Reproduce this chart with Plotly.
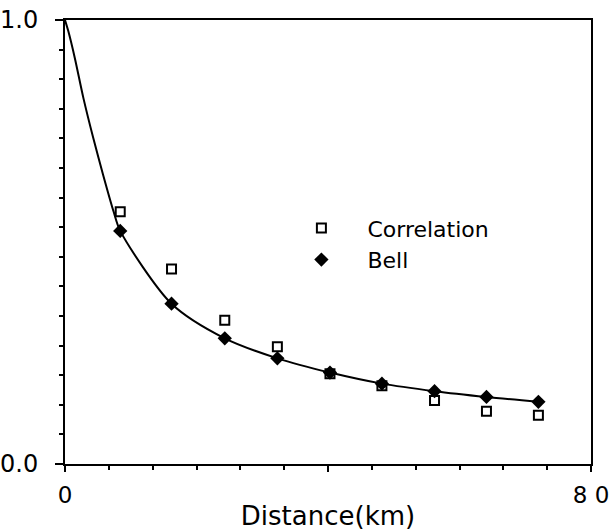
import plotly.graph_objects as go

# Data
dist = [8.4, 16.2, 24.3, 32.3, 40.3, 48.2, 56.2, 64.1, 72.0]
correlation = [0.568, 0.439, 0.324, 0.264, 0.203, 0.176, 0.143, 0.119, 0.110]
bell = [0.525, 0.361, 0.283, 0.238, 0.206, 0.181, 0.164, 0.151, 0.140]

# fitted curve
curve_x = [0, 0.5, 1.5, 2.8, 4.3, 5.8, 7.4, 8.4, 16.2, 24.3, 32.3, 40.3, 48.2, 56.2, 64.1, 72.0]
curve_y = [1.0, 0.975, 0.914, 0.824, 0.734, 0.651, 0.568, 0.525, 0.361, 0.283, 0.238, 0.206, 0.181, 0.164, 0.151, 0.140]

x_ticks = [0, 40, 80]
x_ticktext = ["0", "", "8 0"]
y_ticks = [0, 1]
y_ticktext = ["0.0", "1.0"]

FONT = "DejaVu Sans"

fig = go.Figure()
fig.add_trace(go.Scatter(x=curve_x, y=curve_y, mode="lines",
                         line=dict(color="black", width=2, shape="spline", smoothing=0.8),
                         showlegend=False, hoverinfo="skip"))
fig.add_trace(go.Scatter(x=dist, y=correlation, mode="markers", name="Correlation",
                         marker=dict(symbol="square-open", size=9, color="black", line=dict(width=2))))
fig.add_trace(go.Scatter(x=dist, y=bell, mode="markers", name="Bell",
                         marker=dict(symbol="diamond", size=11, color="black")))

fig.update_layout(
    width=611, height=531,
    margin=dict(l=65, r=20, t=20, b=67),
    plot_bgcolor="white", paper_bgcolor="white",
    font=dict(family=FONT, color="black", size=22),
    legend=dict(x=0.40, y=0.495, xanchor="left", yanchor="middle", bgcolor="rgba(0,0,0,0)",
                font=dict(size=22, family=FONT), itemwidth=82, tracegroupgap=0, itemsizing="trace"),
    xaxis=dict(range=[0, 80], showline=True, mirror=True, linewidth=2, linecolor="black", automargin=False,
               showgrid=False, zeroline=False, tickmode="array", tickvals=x_ticks, ticktext=x_ticktext,
               ticks="outside", ticklen=6, tickwidth=2, tickcolor="black", ticklabelstandoff=3,
               tickfont=dict(size=23),
               minor=dict(tickmode="linear", tick0=0, dtick=80/12, ticks="outside", ticklen=4, tickwidth=2, tickcolor="black"),
               title=dict(text="Distance(km)", font=dict(size=26, family=FONT), standoff=0)),
    yaxis=dict(range=[0, 1], showline=True, mirror=True, linewidth=2, linecolor="black", automargin=False,
               showgrid=False, zeroline=False, tickmode="array", tickvals=y_ticks, ticktext=y_ticktext,
               ticks="outside", ticklen=8, tickwidth=2, tickcolor="black", ticklabelstandoff=12,
               tickfont=dict(size=24),
               minor=dict(tickmode="linear", tick0=0, dtick=1/15, ticks="outside", ticklen=4, tickwidth=2, tickcolor="black")),
)

fig.write_html("out.html")
